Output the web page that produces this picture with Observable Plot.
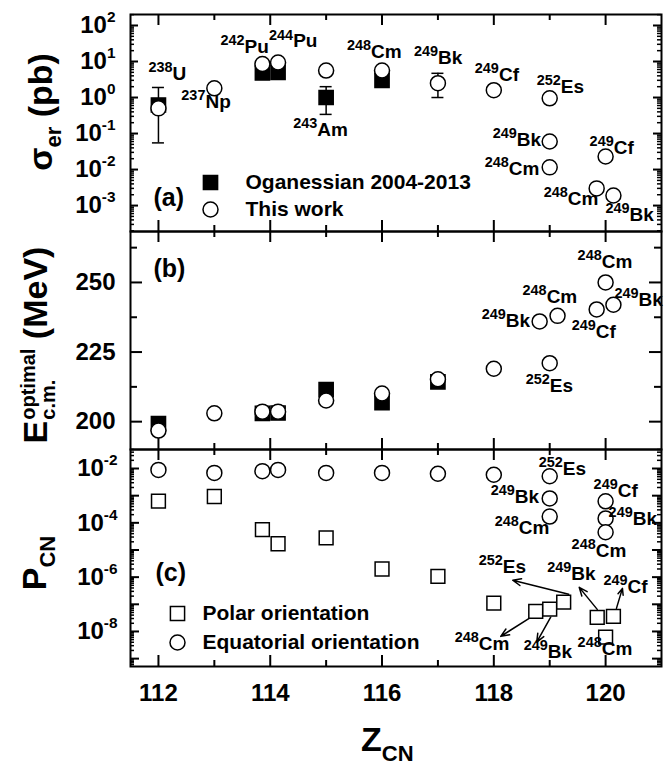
<!DOCTYPE html>
<html>
<head>
<meta charset="utf-8">
<script src="https://cdn.jsdelivr.net/npm/d3@7"></script>
<script src="https://cdn.jsdelivr.net/npm/@observablehq/plot@0.6"></script>
<style>
  body { margin: 0; background: #fff; }
  #fig { position: relative; width: 667px; height: 766px; font-family: "Liberation Sans", Arial, Helvetica, sans-serif; font-weight: bold; color: #000; }
  #fig svg { position: absolute; left: 0; }
  .title { position: absolute; white-space: nowrap; font-size: 34px; line-height: 1; }
  .rot { transform: translate(-50%, -50%) rotate(-90deg); }
  .sub { font-size: 22px; vertical-align: -0.45em; }
  .stack { display: inline-flex; flex-direction: column; font-size: 20px; line-height: 1; vertical-align: 12px; margin-left: 1px; }
</style>
</head>
<body>
<div id="fig">
  <div class="title rot" style="left:44px;top:112px">σ<span class="sub">er</span> (pb)</div>
  <div class="title rot" style="left:38px;top:345px">E<span class="stack"><span>optimal</span><span>c.m.</span></span> (MeV)</div>
  <div class="title rot" style="left:38px;top:563px">P<span class="sub">CN</span></div>
  <div class="title" style="left:361px;top:722px">Z<span class="sub">CN</span></div>
</div>
<script>
// ---------- data ----------
// Z of the compound nucleus; two targets at the same Z are drawn slightly apart.

// (a) evaporation-residue cross sections (pb)
const zThis = [112, 113, 113.86, 114.14, 115, 116, 117, 118, 119, 119, 119, 120, 119.84, 120.14];
const targetThis = ["238U", "237Np", "242Pu", "244Pu", "243Am", "248Cm", "249Bk", "249Cf", "252Es", "249Bk", "248Cm", "249Cf", "248Cm", "249Bk"];
const sigmaThis = [0.5, 1.8, 8.5, 9.4, 5.6, 5.6, 2.5, 1.6, 0.95, 0.06, 0.0115, 0.023, 0.003, 0.0019];
const zOg = [112, 113.86, 114.14, 115, 116];
const sigmaOg = [0.62, 4.8, 5.0, 1.0, 3.0];
const errZ = [112, 115, 117];
const errLow = [0.055, 0.34, 1.0];
const errHigh = [1.9, 2.0, 4.7];

// (b) optimal centre-of-mass energies (MeV)
const zEThis = [112, 113, 113.86, 114.14, 115, 116, 117, 118, 119, 118.82, 119.14, 119.84, 120, 120.14];
const targetEThis = ["238U", "237Np", "242Pu", "244Pu", "243Am", "248Cm", "249Bk", "249Cf", "252Es", "249Bk", "248Cm", "249Cf", "248Cm", "249Bk"];
const eThis = [196.8, 203, 203.6, 203.6, 207.6, 210.1, 215.2, 219, 221, 236, 238, 240.3, 250, 242];
const zEOg = [112, 113.86, 114.14, 115, 116, 117];
const eOg = [199.3, 203, 203.1, 211.5, 206.8, 214.3];

// (c) compound-nucleus formation probabilities
const zEq = [112, 113, 113.86, 114.14, 115, 116, 117, 118, 119, 119, 119, 120, 120, 120];
const targetEq = ["238U", "237Np", "242Pu", "244Pu", "243Am", "248Cm", "249Bk", "249Cf", "252Es", "249Bk", "248Cm", "249Cf", "249Bk", "248Cm"];
const pEq = [8.9e-3, 6.9e-3, 8.0e-3, 8.9e-3, 6.9e-3, 6.9e-3, 6.4e-3, 5.9e-3, 5.2e-3, 7.9e-4, 1.7e-4, 6.2e-4, 1.45e-4, 4.5e-5];
const zPol = [112, 113, 113.86, 114.14, 115, 116, 117, 118, 118.75, 119, 119.25, 119.85, 120.14, 120];
const targetPol = ["238U", "237Np", "242Pu", "244Pu", "243Am", "248Cm", "249Bk", "249Cf", "248Cm", "249Bk", "252Es", "249Bk", "249Cf", "248Cm"];
const pPol = [6.3e-4, 9.3e-4, 5.6e-5, 1.7e-5, 2.8e-5, 2.0e-6, 1.07e-6, 1.1e-7, 5.5e-8, 6.6e-8, 1.2e-7, 3.3e-8, 3.6e-8, 6.2e-9];

// axis ticks
const xMajor = [112, 114, 116, 118, 120];
const xMinor = [113, 115, 117, 119];
const sigmaTicks = [1e-3, 1e-2, 1e-1, 1, 10, 100];
const eTicks = [200, 225, 250];
const eMinor = [212.5, 237.5, 262.5];
const pTickLabels = [1e-8, 1e-6, 1e-4, 1e-2];
const pDecades = [1e-9, 1e-8, 1e-7, 1e-6, 1e-5, 1e-4, 1e-3, 1e-2];

// ---------- layout ----------
const W = 667, ML = 130, MR = 6, FW = W - ML - MR;
const xDomain = [111.5, 121];
const hA = 231, mtA = 14, domA = [10 ** -3.72, 10 ** 2.305];
const hB = 218, domB = [190, 268.3];
const hC = 317, mbC = 100, domC = [10 ** -9.29, 10 ** -1.3];
const FHA = hA - mtA, FHB = hB, FHC = hC - mbC;

// label placement (pixel offsets of the text start / baseline from the point)
const labelOffA = {0: [-10, -28], 1: [-33, 20], 2: [-42, -11], 3: [-9, -15], 4: [-33, 65], 5: [-35, -13], 6: [-24, -19],
  7: [-19, -9], 8: [-13, -5], 9: [-57, 4], 10: [-65, 8], 11: [-16, -3], 12: [-53, 17], 13: [-8, 25]};
const labelOffB = {8: [-24, 29], 9: [-58, 6], 10: [-35, -13], 11: [-25, 29], 12: [-28, -14], 13: [1, 1]};
const labelOffEq = {8: [-11, -1], 9: [-59, 5], 10: [-55, 17], 11: [-12, -4], 12: [3, 7], 13: [-34, 25]};
const labelOffPol = {8: [-81, 39], 9: [-26, 49], 10: [-85, -29], 11: [-50, -37], 12: [-10, -23], 13: [-28, 18]};
// arrows from a polar point to its label: [start dx, start dy, end dx, end dy]
const arrowOffPol = {8: [-5, 6, -35, 25], 9: [1, 8, -13, 33], 10: [5, -8, -51, -22], 11: [0, -8, -18, -30], 12: [3, -8, 9, -28]};

const fontFamily = "'Liberation Sans', Arial, Helvetica, sans-serif";
const svgStyle = {fontFamily, fontWeight: "bold", background: "transparent", overflow: "visible"};

const isotope = (s) => s.replace(/^(\d+)(.*)$/, "^{$1}$2");
const pow10 = (d) => `10^{${Math.round(Math.log10(d))}}`;
const logMinor = (dom) => d3.range(Math.floor(Math.log10(dom[0])), Math.ceil(Math.log10(dom[1])))
  .flatMap((k) => d3.range(2, 10).map((m) => m * 10 ** k))
  .filter((v) => v > dom[0] && v < dom[1]);

// pixel offsets -> data offsets for annotation arrows
const shiftX = (z, px) => z + px * (xDomain[1] - xDomain[0]) / FW;
const shiftLog = (v, px, dom, fh) => v * 10 ** (-px * (Math.log10(dom[1]) - Math.log10(dom[0])) / fh);

function xTicks(fh) {
  return [
    Plot.ruleX(xMajor, {x: (d) => d, insetBottom: fh - 11, strokeWidth: 2}),
    Plot.ruleX(xMajor, {x: (d) => d, insetTop: fh - 11, strokeWidth: 2}),
    Plot.ruleX(xMinor, {x: (d) => d, insetBottom: fh - 6, strokeWidth: 2}),
    Plot.ruleX(xMinor, {x: (d) => d, insetTop: fh - 6, strokeWidth: 2})
  ];
}
function yTicks(ticks, len, sw = 2) {
  return [
    Plot.ruleY(ticks, {y: (d) => d, insetRight: FW - len, strokeWidth: sw}),
    Plot.ruleY(ticks, {y: (d) => d, insetLeft: FW - len, strokeWidth: sw})
  ];
}
function isoLabels(z, v, targets, offsets) {
  return Object.entries(offsets).map(([i, [dx, dy]]) =>
    Plot.text([+i], {x: (j) => z[j], y: (j) => v[j], text: (j) => isotope(targets[j]),
      dx, dy, textAnchor: "start", lineAnchor: "bottom", fontSize: 19}));
}
const corner = (text, dx, dy, size) =>
  Plot.text([text], {frameAnchor: "top-left", dx, dy, textAnchor: "start", lineAnchor: "middle", fontSize: size});
const key = (symbol, fill, dx, dy) =>
  Plot.dot([0], {frameAnchor: "top-left", dx, dy, symbol, r: symbol === "square" ? 8 : 7.5, fill, stroke: "black", strokeWidth: 1.5});

// ---------- (a) ----------
const errs = errZ.map((z, i) => ({z, lo: errLow[i], hi: errHigh[i]}));
const cap = 6 * (xDomain[1] - xDomain[0]) / FW;
const plotA = Plot.plot({
  width: W, height: hA, marginLeft: ML, marginRight: MR, marginTop: mtA, marginBottom: 0,
  style: svgStyle,
  x: {domain: xDomain, axis: null},
  y: {type: "log", domain: domA, axis: null},
  marks: [
    Plot.axisY(sigmaTicks, {tickSize: 0, tickPadding: 15, fontSize: 24, tickFormat: pow10, label: null}),
    ...yTicks(logMinor(domA), 4, 1.5),
    ...yTicks(sigmaTicks, 8),
    ...xTicks(FHA),
    Plot.ruleX(errs, {x: "z", y1: "lo", y2: "hi", strokeWidth: 1.5}),
    Plot.ruleY(errs, {y: "lo", x1: (d) => d.z - cap, x2: (d) => d.z + cap, strokeWidth: 1.5}),
    Plot.ruleY(errs, {y: "hi", x1: (d) => d.z - cap, x2: (d) => d.z + cap, strokeWidth: 1.5}),
    Plot.dot(zOg, {x: (d) => d, y: (d, i) => sigmaOg[i], symbol: "square", r: 8, fill: "black", stroke: "black"}),
    Plot.dot(zThis, {x: (d) => d, y: (d, i) => sigmaThis[i], symbol: "circle", r: 7.5, fill: "white", stroke: "black", strokeWidth: 1.5}),
    ...isoLabels(zThis, sigmaThis, targetThis, labelOffA),
    key("square", "black", 80, 168),
    key("circle", "white", 80, 195),
    corner("Oganessian 2004-2013", 115, 168, 21),
    corner("This work", 115, 195, 21),
    corner("(a)", 23, 183, 25),
    Plot.frame({strokeWidth: 2})
  ]
});

// ---------- (b) ----------
const plotB = Plot.plot({
  width: W, height: hB, marginLeft: ML, marginRight: MR, marginTop: 0, marginBottom: 0,
  style: svgStyle,
  x: {domain: xDomain, axis: null},
  y: {domain: domB, axis: null},
  marks: [
    Plot.axisY(eTicks, {tickSize: 0, tickPadding: 15, fontSize: 24, label: null}),
    ...yTicks(eMinor, 7),
    ...yTicks(eTicks, 12),
    ...xTicks(FHB),
    Plot.dot(zEOg, {x: (d) => d, y: (d, i) => eOg[i], symbol: "square", r: 8, fill: "black", stroke: "black"}),
    Plot.dot(zEThis, {x: (d) => d, y: (d, i) => eThis[i], symbol: "circle", r: 7.5, fill: "white", stroke: "black", strokeWidth: 1.5}),
    ...isoLabels(zEThis, eThis, targetEThis, labelOffB),
    corner("(b)", 23, 37, 25),
    Plot.frame({strokeWidth: 2})
  ]
});

// ---------- (c) ----------
const arrows = Object.entries(arrowOffPol).map(([i, [sx, sy, ex, ey]]) => ({
  x1: shiftX(zPol[i], sx), y1: shiftLog(pPol[i], sy, domC, FHC),
  x2: shiftX(zPol[i], ex), y2: shiftLog(pPol[i], ey, domC, FHC)
}));
const plotC = Plot.plot({
  width: W, height: hC, marginLeft: ML, marginRight: MR, marginTop: 0, marginBottom: mbC,
  style: svgStyle,
  x: {domain: xDomain, axis: null},
  y: {type: "log", domain: domC, axis: null},
  marks: [
    Plot.axisY(pTickLabels, {tickSize: 0, tickPadding: 13, fontSize: 24, tickFormat: pow10, label: null}),
    Plot.axisX(xMajor, {tickSize: 0, tickPadding: 17, fontSize: 24, label: null}),
    ...yTicks(logMinor(domC), 4, 1.5),
    ...yTicks(pDecades, 9),
    ...xTicks(FHC),
    Plot.arrow(arrows, {x1: "x1", y1: "y1", x2: "x2", y2: "y2", strokeWidth: 1.5, headLength: 9, headAngle: 45}),
    Plot.dot(zPol, {x: (d) => d, y: (d, i) => pPol[i], symbol: "square", r: 7.8, fill: "white", stroke: "black", strokeWidth: 1.5}),
    Plot.dot(zEq, {x: (d) => d, y: (d, i) => pEq[i], symbol: "circle", r: 7.5, fill: "white", stroke: "black", strokeWidth: 1.5}),
    ...isoLabels(zEq, pEq, targetEq, labelOffEq),
    ...isoLabels(zPol, pPol, targetPol, labelOffPol),
    key("square", "white", 47, 164),
    key("circle", "white", 47, 193),
    corner("Polar orientation", 72, 164, 21),
    corner("Equatorial orientation", 72, 193, 21),
    corner("(c)", 25, 123, 25),
    Plot.frame({strokeWidth: 2})
  ]
});

// rich text: ^{..} raised, _{..} lowered, written as <tspan>s
function richText(root) {
  const NS = "http://www.w3.org/2000/svg";
  root.querySelectorAll("text").forEach((t) => {
    const s = t.textContent;
    if (!/[\^_]\{/.test(s)) return;
    const base = parseFloat(getComputedStyle(t).fontSize);
    const iso = s.startsWith("^{");
    const ratio = iso ? 0.76 : 0.64;
    const rise = iso ? 0.42 : 0.45;
    t.textContent = "";
    let shift = 0, m;
    const re = /([\^_])\{([^}]*)\}|([^\^_]+)/g;
    while ((m = re.exec(s))) {
      const span = document.createElementNS(NS, "tspan");
      let target = 0, size = base;
      if (m[1]) {
        size = base * ratio;
        target = m[1] === "^" ? -rise * base : 0.3 * base;
        span.textContent = m[2];
      } else span.textContent = m[3];
      span.setAttribute("font-size", size);
      span.setAttribute("dy", target - shift);
      shift = target;
      t.appendChild(span);
    }
  });
}

const fig = document.getElementById("fig");
[[plotA, 0], [plotB, hA], [plotC, hA + hB]].forEach(([svg, top]) => {
  svg.style.top = top + "px";
  fig.appendChild(svg);
  richText(svg);
});
</script>
</body>
</html>
